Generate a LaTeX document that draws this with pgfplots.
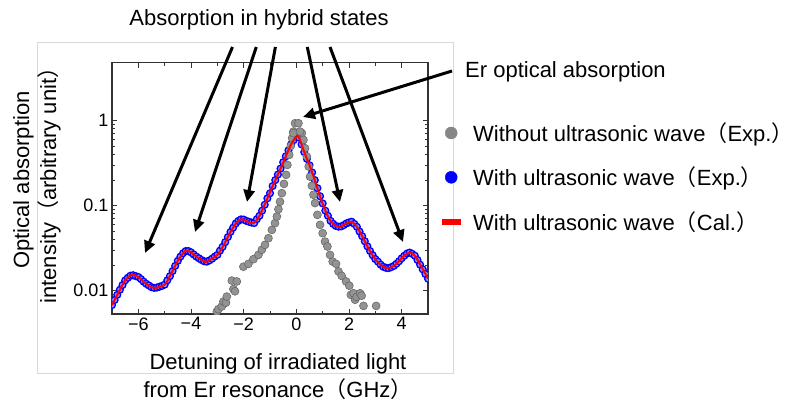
\documentclass[border=0pt]{standalone}
\usepackage{pgfplots}
\pgfplotsset{compat=1.18}
\usepackage{pgfplotstable}
\usepackage{fontspec}
\setmainfont{Liberation Sans}
\newfontfamily\cjk{Noto Sans CJK JP}
\usetikzlibrary{arrows.meta}
\newcommand{\lp}{{\cjk （}}
\newcommand{\rp}{{\cjk ）}}

\pgfplotstableread{
x y
-3.02 0.00566
-2.96 0.00604
-2.83 0.0065
-2.77 0.00743
-2.67 0.0072
-2.64 0.0085
-2.45 0.0131
-2.39 0.0104
-2.33 0.0098
-2.26 0.0128
-2.01 0.0191
-1.82 0.0206
-1.63 0.0234
-1.44 0.0263
-1.31 0.0302
-1.19 0.0345
-1.06 0.0413
-0.93 0.0518
-0.81 0.0621
-0.74 0.0743
-0.68 0.0906
-0.62 0.111
-0.55 0.140
-0.47 0.18
-0.39 0.23
-0.34 0.301
-0.27 0.395
-0.21 0.504
-0.16 0.621
-0.11 0.743
-0.11 0.711
-0.05 0.93
0.08 0.93
0.21 0.711
0.14 0.743
0.27 0.593
0.33 0.473
0.40 0.377
0.47 0.288
0.52 0.219
0.59 0.171
0.65 0.134
0.71 0.107
0.80 0.0778
0.90 0.0593
1.00 0.0473
1.09 0.0377
1.18 0.033
1.28 0.0263
1.38 0.0219
1.51 0.0206
1.60 0.0168
1.72 0.0149
1.89 0.0128
2.01 0.0114
2.07 0.0089
2.17 0.0093
2.23 0.0078
2.29 0.0084
2.42 0.0093
2.48 0.0087
2.55 0.0066
3.03 0.0066
}\tabgrey

\pgfplotstableread{
x y
-7.0 0.00676
-6.9 0.00776
-6.8 0.00891
-6.7 0.01023
-6.6 0.01161
-6.5 0.01318
-6.4 0.01413
-6.3 0.01496
-6.2 0.01514
-6.1 0.01479
-6.0 0.01445
-5.9 0.01365
-5.8 0.01274
-5.7 0.01202
-5.6 0.01148
-5.5 0.01096
-5.4 0.01076
-5.3 0.01084
-5.2 0.01109
-5.1 0.01135
-5.0 0.01175
-4.9 0.01318
-4.8 0.01479
-4.7 0.01698
-4.6 0.01950
-4.5 0.02239
-4.4 0.02512
-4.3 0.02754
-4.2 0.02917
-4.1 0.02917
-4.0 0.02818
-3.9 0.02661
-3.8 0.02512
-3.7 0.02399
-3.6 0.02291
-3.5 0.02213
-3.4 0.02188
-3.3 0.02265
-3.2 0.02371
-3.1 0.02512
-3.0 0.02630
-2.9 0.02951
-2.8 0.03273
-2.7 0.03715
-2.6 0.04266
-2.5 0.04898
-2.4 0.05495
-2.3 0.06166
-2.2 0.06607
-2.1 0.06887
-2.0 0.06839
-1.9 0.06607
-1.8 0.06457
-1.7 0.06310
-1.6 0.06237
-1.5 0.06918
-1.4 0.07586
-1.3 0.08710
-1.2 0.1023
-1.1 0.1216
-1.0 0.1396
-0.9 0.1698
-0.8 0.1995
-0.7 0.2317
-0.6 0.2723
-0.5 0.3236
-0.4 0.3802
-0.3 0.4467
-0.2 0.5248
-0.1 0.5888
0.0 0.6457
0.1 0.6310
0.2 0.5248
0.3 0.4266
0.4 0.3548
0.5 0.2985
0.6 0.2455
0.7 0.1995
0.8 0.1603
0.9 0.1288
1.0 0.1059
1.1 0.0871
1.2 0.07586
1.3 0.06607
1.4 0.06095
1.5 0.05754
1.6 0.05649
1.7 0.05689
1.8 0.05888
1.9 0.06166
2.0 0.06339
2.1 0.06457
2.2 0.06095
2.3 0.05623
2.4 0.04955
2.5 0.04365
2.6 0.03802
2.7 0.03311
2.8 0.02917
2.9 0.02600
3.0 0.02344
3.1 0.02188
3.2 0.02018
3.3 0.01905
3.4 0.01854
3.5 0.01837
3.6 0.01884
3.7 0.01950
3.8 0.02065
3.9 0.02213
4.0 0.02399
4.1 0.02570
4.2 0.02723
4.3 0.02799
4.4 0.02704
4.5 0.02570
4.6 0.02291
4.7 0.02018
4.8 0.01778
4.9 0.01567
5.0 0.01380
}\tabblue

\pgfplotstableread{
x y
-7.0 0.00676
-6.75 0.00955
-6.5 0.01318
-6.25 0.01531
-6.0 0.01445
-5.75 0.01230
-5.5 0.01096
-5.37 0.01072
-5.0 0.01175
-4.75 0.01585
-4.5 0.02239
-4.25 0.02884
-4.16 0.02951
-4.0 0.02818
-3.75 0.02455
-3.5 0.02213
-3.41 0.02188
-3.0 0.02630
-2.75 0.03467
-2.5 0.04898
-2.25 0.06457
-2.08 0.06918
-1.9 0.06607
-1.63 0.06209
-1.4 0.07586
-1.12 0.1175
-0.9 0.1698
-0.62 0.2630
-0.4 0.3802
-0.2 0.5248
0.0 0.6457
0.1 0.6310
0.3 0.4266
0.52 0.2884
0.7 0.1995
0.9 0.1288
1.1 0.0871
1.3 0.0661
1.5 0.0575
1.66 0.0562
1.9 0.0617
2.1 0.0646
2.3 0.0562
2.5 0.0437
2.75 0.0309
3.0 0.0234
3.25 0.0195
3.49 0.0183
3.75 0.0200
4.0 0.0240
4.2 0.0272
4.32 0.0280
4.5 0.0257
4.75 0.0191
5.0 0.0138
}\tabred

\begin{document}
\begin{tikzpicture}[x=1pt,y=1pt]
\path[use as bounding box] (0,0) rectangle (794,401);
\draw[gray!30, line width=0.7pt] (37,28) rectangle (453,359);
\begin{axis}[
  at={(112pt,87pt)}, anchor=south west,
  scale only axis, width=316pt, height=251.3pt,
  xmin=-7, xmax=5, ymode=log, ymin=0.0053, ymax=4.8,
  clip marker paths=true,
  xtick={-6,-4,-2,0,2,4},
  xticklabels={−6,−4,−2,0,2,4},
  minor xtick={-5,-3,-1,1,3},
  ytick={0.01,0.1,1},
  yticklabels={0.01,0.1,1},
  tick align=inside,
  major tick length=5pt, minor tick length=3pt,
  axis line style={line width=1.2pt, black!80},
  every tick/.style={black!80, line width=0.8pt},
  tick label style={font=\fontsize{18}{18}\selectfont, black},
  legend cell align=left,
  legend style={at={(axis description cs:1.038,0.7695)}, anchor=north west,
    draw=none, fill=none, inner sep=0pt, row sep=20pt,
    font=\fontsize{22}{22}\selectfont,
    nodes={inner sep=2pt, text depth=0.15em}},
]
\addplot[only marks, mark=*, mark size=3.4pt,
  mark options={draw=blue, fill=blue!45, line width=1.3pt}, forget plot] table[x=x,y=y] {\tabblue};
\addplot[only marks, mark=*, mark size=4pt,
  mark options={fill=gray!85, draw=gray!75!black, line width=0.5pt}, forget plot] table[x=x,y=y] {\tabgrey};
\addplot[draw=red, line width=2pt, smooth, no marks, forget plot] table[x=x,y=y] {\tabred};

\addlegendimage{legend image code/.code={\path[draw=none] (-11pt,0pt) -- (20pt,0pt); \fill[gray!95] (0pt,0pt) circle (6pt);}}
\addlegendentry{Without ultrasonic wave\lp Exp.\rp}
\addlegendimage{legend image code/.code={\path[draw=none] (-11pt,0pt) -- (20pt,0pt); \fill[blue] (0pt,0pt) circle (6pt);}}
\addlegendentry{With ultrasonic wave\lp Exp.\rp}
\addlegendimage{legend image code/.code={\path[draw=none] (-11pt,0pt) -- (20pt,0pt); \fill[red] (-9pt,-2.5pt) rectangle (9pt,2.5pt);}}
\addlegendentry{With ultrasonic wave\lp Cal.\rp}
\end{axis}

\begin{scope}[line width=3pt, -{Triangle[length=12pt,width=11pt]}]
\draw (232.5,354) -- (145,148);
\draw (256.3,354) -- (195,169);
\draw (275.4,354) -- (247,199);
\draw (307.3,354) -- (340,199);
\draw (330,354) -- (403,159);
\draw (452,330) -- (303,284);
\end{scope}

\node[font=\fontsize{22}{26}\selectfont] at (259,381) {Absorption in hybrid states};
\node[font=\fontsize{22}{26}\selectfont, anchor=west, inner sep=0pt] at (465,329) {Er optical absorption};
\node[rotate=90, align=center, font=\fontsize{22}{27}\selectfont] at (37,221) {Optical absorption\\intensity\lp arbitrary unit\rp};
\node[align=center, font=\fontsize{22}{28}\selectfont] at (278,24) {Detuning of irradiated light\\from Er resonance\lp GHz\rp};
\end{tikzpicture}
\end{document}
